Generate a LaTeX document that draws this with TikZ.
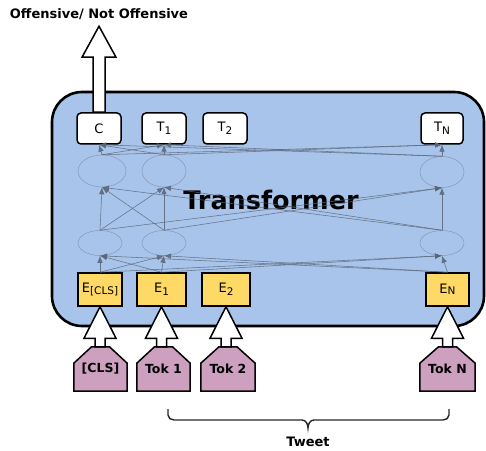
\documentclass[tikz,border=0pt]{standalone}
\usepackage{fontspec}
\setmainfont{DejaVu Sans}
\usetikzlibrary{calc,arrows.meta,backgrounds,shapes.geometric}
\definecolor{bluefill}{HTML}{A8C4EA}
\definecolor{yellowfill}{HTML}{FFD966}
\definecolor{pinkfill}{HTML}{CDA0BF}
\definecolor{connc}{HTML}{5A6577}
\definecolor{ellc}{HTML}{8797B3}
\newcommand\mysub[1]{\raisebox{-2.5pt}{\fontsize{10.5}{10.5}\selectfont #1}}
\newcommand\bigup[2]{%
  \draw[bigarrow] ($(#2.south |- #1.north)+(-5,0)$) -- ($(#2.south)+(-5,-31.5)$)
    -- ($(#2.south)+(-16,-31.5)$) -- (#2.south) -- ($(#2.south)+(16,-31.5)$)
    -- ($(#2.south)+(5,-31.5)$) -- ($(#2.south |- #1.north)+(5,0)$) -- cycle;}
\begin{document}
\begin{tikzpicture}[x=1pt,y=1pt,
  outbox/.style={draw=black,line width=1.5pt,fill=white,rounded corners=4pt,
    minimum width=44pt,minimum height=31pt,inner sep=0pt,font=\fontsize{13}{15}\selectfont},
  embbox/.style={draw=black,line width=1.5pt,fill=yellowfill,
    minimum height=33pt,inner sep=0pt,font=\fontsize{13}{15}\selectfont},
  tokbox/.style={minimum height=44pt,inner sep=0pt,font=\bfseries\fontsize{12.5}{14}\selectfont},
  pent/.style={draw=black,line width=1.5pt,fill=pinkfill,line join=miter},
  trm/.style={ellipse,draw=ellc,line width=0.5pt,minimum width=44pt,inner sep=0pt},
  conn/.style={draw=connc,opacity=0.85,line width=0.55pt,-{Latex[length=7pt,width=5.5pt]}},
  bigarrow/.style={draw=black,line width=1.5pt,fill=white,line join=miter},
]
\useasboundingbox (0,0) rectangle (486,450);
% transformer block
\begin{scope}[on background layer]
\draw[line width=2.6pt,fill=bluefill,rounded corners=30pt] (52,124) rectangle (484,358);
\end{scope}
\node[font=\bfseries\fontsize{25.5}{28}\selectfont] (trf) at (271,250) {Transformer};
% output boxes
\node[outbox] (C) at (99,321.5) {C};
\node[outbox] (T1) at (164,321.5) {T\mysub{1}};
\node[outbox] (T2) at (225,321.5) {T\mysub{2}};
\node[outbox,minimum width=42pt] (TN) at (442,321.5) {T\mysub{N}};
% trm ellipses
\node[trm,minimum width=48pt,minimum height=32pt] (U0) at (102,279) {};
\node[trm,minimum height=32pt] (U1) at (164,279) {};
\node[trm,minimum height=31pt] (UN) at (442,278) {};
\node[trm,minimum height=25pt] (B0) at (100,207) {};
\node[trm,minimum height=25pt] (B1) at (164,207) {};
\node[trm,minimum height=25pt] (BN) at (442,207) {};
% embeddings
\node[embbox,minimum width=44pt] (Ecls) at (100,160.5) {E\mysub{[CLS]}};
\node[embbox,minimum width=49pt] (E1) at (161.5,160.5) {E\mysub{1}};
\node[embbox,minimum width=48pt] (E2) at (226,160.5) {E\mysub{2}};
\node[embbox,minimum width=43pt] (EN) at (447.5,160.5) {E\raisebox{-1pt}{\fontsize{10.5}{10.5}\selectfont N}};
% connections
\foreach \s in {Ecls,E1,EN}{\foreach \t in {B0,B1,BN}{\draw[conn] (\s.north) -- (\t.south);}}
\foreach \s in {B0,B1,BN}{\foreach \t in {U0,U1,UN}{\draw[conn] (\s.north) -- (\t.south);}}
\foreach \s in {U0,U1,UN}{\foreach \t in {C,T1,TN}{\draw[conn] (\s.north) -- (\t.south);}}
% tokens
\node[tokbox,minimum width=53pt] (Kcls) at (100.5,81) {\raisebox{-5pt}{[CLS]}};
\node[tokbox,minimum width=53pt] (K1) at (163.5,81) {\raisebox{-5pt}{Tok 1}};
\node[tokbox,minimum width=54pt] (K2) at (228,81) {\raisebox{-5pt}{Tok 2}};
\node[tokbox,minimum width=55pt] (KN) at (447.5,81) {\raisebox{-5pt}{Tok N}};
\begin{scope}[on background layer]
\foreach \n in {Kcls,K1,K2,KN}{
  \draw[pent] (\n.south west) -- ($(\n.south west)+(0,28)$) -- ($(\n.north)+(-9,0)$)
    -- ($(\n.north)+(9,0)$) -- ($(\n.south east)+(0,28)$) -- (\n.south east) -- cycle;}
\end{scope}
% big input arrows
\bigup{Kcls}{Ecls}
\bigup{K1}{E1}
\bigup{K2}{E2}
\bigup{KN}{EN}
% output arrow
\node[font=\bfseries\fontsize{13}{15}\selectfont] (out) at (99,436) {Offensive/ Not Offensive};
\coordinate (tip) at ($(C.north)+(0,86)$);
\draw[bigarrow] ($(C.north)+(-6,0)$) -- ($(C.north)+(-6,55)$) -- ($(C.north)+(-17,55)$)
  -- (tip) -- ($(C.north)+(17,55)$) -- ($(C.north)+(6,55)$) -- ($(C.north)+(6,0)$) -- cycle;
% brace
\node[font=\bfseries\fontsize{13}{15}\selectfont] (tweet) at (308,8) {Tweet};
\coordinate (bl) at (168,41);
\coordinate (br) at (449,41);
\draw[line width=1.4pt,draw=black!85] (bl) -- (168,35) to[out=-90,in=180] (174,30) -- (302,30)
  to[out=0,in=90] (308,22) to[out=90,in=180] (314,30) -- (443,30) to[out=0,in=-90] (449,35) -- (br);
\end{tikzpicture}
\end{document}
